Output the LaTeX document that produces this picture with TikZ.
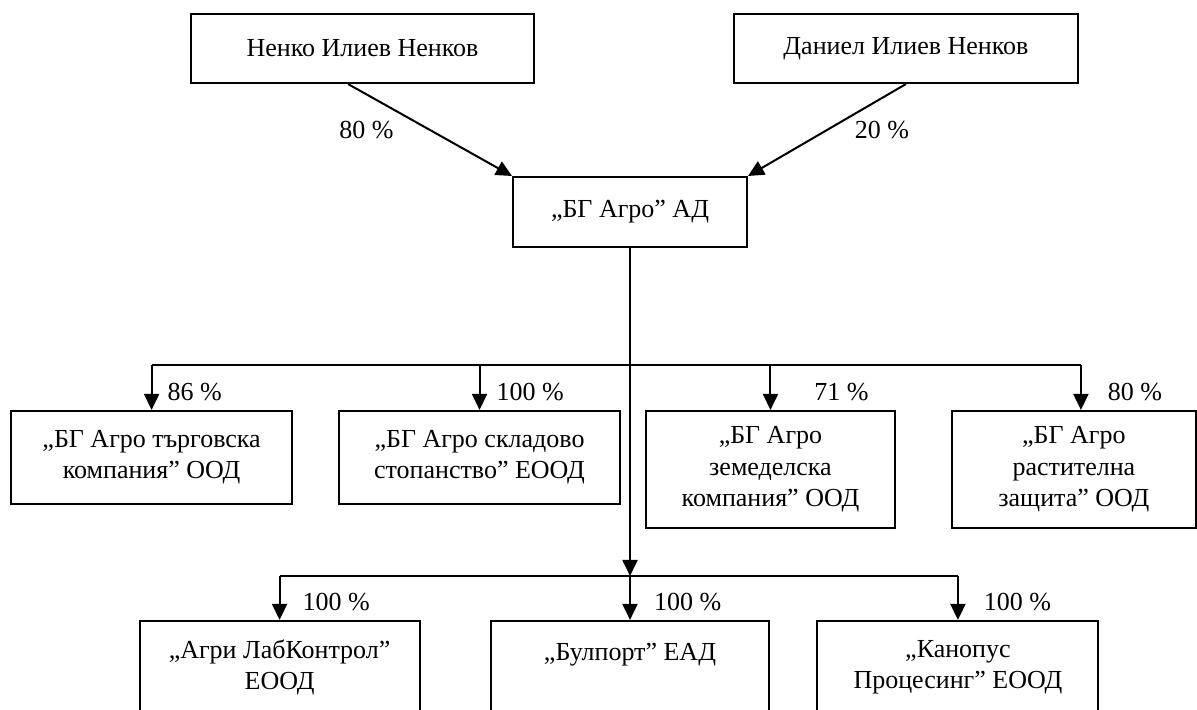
\documentclass[tikz,border=0pt]{standalone}
\usepackage{fontspec}
\setmainfont{Liberation Serif}
\usetikzlibrary{arrows.meta,positioning}

\tikzset{
  firm/.style 2 args={draw, minimum width=#1, minimum height=#2, align=center},
  share/.style={inner sep=0pt}
}

\begin{document}
\begin{tikzpicture}[x=0.02cm, y=-0.02cm, ->, >={Triangle[length=0.32cm,width=0.3cm]},
    line width=1.15pt, on grid, font=\fontsize{14.8}{17.8}\selectfont]
   \useasboundingbox (0,0) rectangle (1197,710);
   % owners and the holding
   \node[firm={4.68cm}{1.40cm}] (BG) at (630,212) {„БГ Агро” АД};
   \node[firm={6.86cm}{1.38cm}] (NN) [above left=3.27cm and 5.35cm of BG] {Ненко Илиев Ненков};
   \node[firm={6.88cm}{1.38cm}] (DN) [above right=3.27cm and 5.52cm of BG] {Даниел Илиев Ненков};
   % first row of daughters
   \node[firm={5.62cm}{1.86cm}] (TK) [below left=4.91cm and 9.57cm of BG] {„БГ Агро търговска\\компания” ООД};
   \node[firm={5.62cm}{1.86cm}] (SS) [below left=4.91cm and 3.01cm of BG] {„БГ Агро складово\\стопанство” ЕООД};
   \node[firm={4.98cm}{2.34cm}] (ZK) [below right=5.15cm and 2.81cm of BG] {„БГ Агро\\земеделска\\компания” ООД};
   \node[firm={4.88cm}{2.34cm}] (RZ) [below right=5.15cm and 8.88cm of BG] {„БГ Агро\\растителна\\защита” ООД};
   % second row
   \node[firm={5.58cm}{1.86cm}] (BP) [below=9.11cm of BG] {„Булпорт” ЕАД\\ \mbox{}};
   \node[firm={5.60cm}{1.86cm}] (LK) [left=7.01cm of BP] {„Агри ЛабКонтрол”\\ЕООД};
   \node[firm={5.62cm}{1.86cm}] (KP) [right=6.56cm of BP] {„Канопус\\Процесинг” ЕООД};

   \coordinate[below=2.34cm of BG.south] (bus1);
   \coordinate[below=6.56cm of BG.south] (bus2);
   \coordinate (RZtop) at ([xshift=0.14cm]RZ.north);

   \path
   ([xshift=-0.29cm]NN.south) edge node[share, midway, left=0.71cm] (p80) {80 \%} (BG.north west)
   (DN.south) edge node[share, midway, right=0.54cm] (p20) {20 \%} (BG.north east)
   (BG) edge (bus2);

   \draw[-] (TK |- bus1) -- (RZtop |- bus1);
   \path
   (TK |- bus1) edge node[share, pos=0.6, right=0.3cm] (pTK) {86 \%} (TK)
   (SS |- bus1) edge node[share, pos=0.6, right=0.32cm] (pSS) {100 \%} (SS)
   (ZK |- bus1) edge node[share, pos=0.6, right=0.86cm] (pZK) {71 \%} (ZK)
   (RZtop |- bus1) edge node[share, pos=0.6, right=0.52cm] (pRZ) {80 \%} (RZtop);

   \draw[-] (LK |- bus2) -- (KP |- bus2);
   \path
   (LK |- bus2) edge node[share, pos=0.6, right=0.44cm] (pLK) {100 \%} (LK)
   (BP |- bus2) edge node[share, pos=0.6, right=0.46cm] (pBP) {100 \%} (BP)
   (KP |- bus2) edge node[share, pos=0.6, right=0.5cm] (pKP) {100 \%} (KP);
\end{tikzpicture}
\end{document}
